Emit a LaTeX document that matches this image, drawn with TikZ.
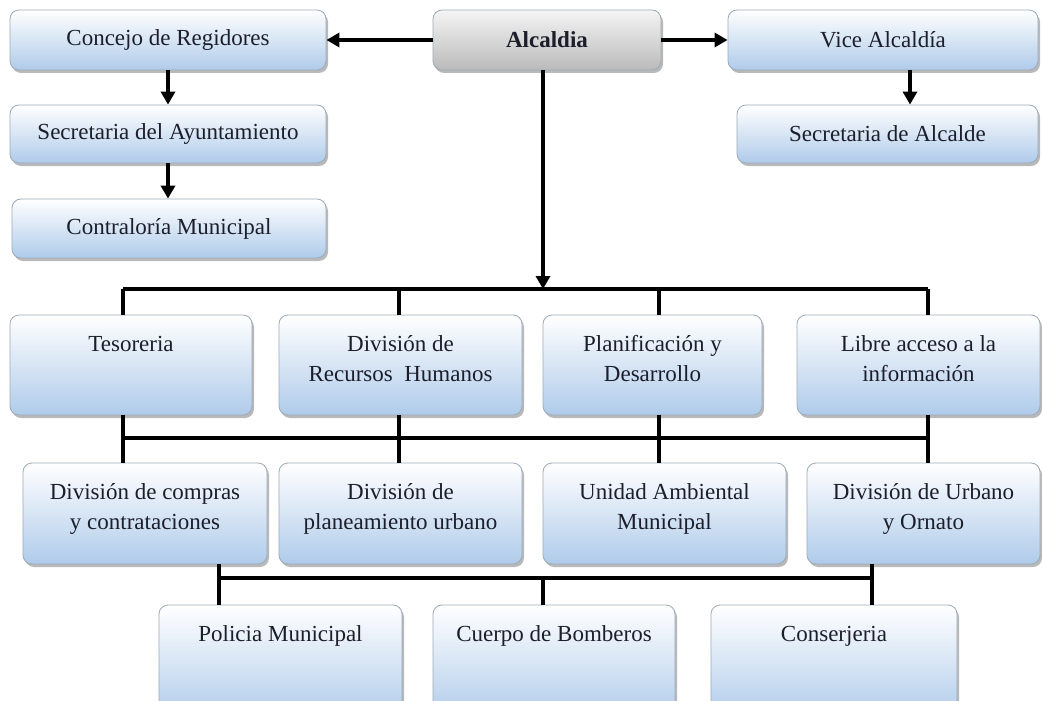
\documentclass[tikz,border=0pt]{standalone}
\usepackage{fontspec}
\setmainfont{Liberation Serif}
\usetikzlibrary{arrows.meta,shadows}
\definecolor{boxblue}{HTML}{AFCBEA}
\definecolor{boxedge}{HTML}{9DAAB8}
\definecolor{ink}{HTML}{1C1F2B}
\newcommand{\orgfont}{\fontsize{23}{30}\selectfont}
\begin{document}
\begin{tikzpicture}[x=1pt,y=-1pt]

    \tikzset{
      unit/.style={
        draw=boxedge,
        line width=0.8pt,
        rounded corners=9pt,
        top color=white,
        bottom color=boxblue,
        drop shadow={shadow xshift=2pt,shadow yshift=-3pt,opacity=0.55},
        text=ink,
        inner sep=0pt,
        align=center,
        font=\orgfont,
      },
      head/.style={unit,top color=black!4,bottom color=black!27,font=\orgfont\bfseries},
      toptext/.style={label={[anchor=north,inner sep=0pt,yshift=-21pt,align=center,text=ink,font=\orgfont]north:#1}},
      conn/.style={line width=3.8pt},
      arr/.style={conn,-{Triangle[length=13pt,width=14pt]}},
    }
    \useasboundingbox (0,0) rectangle (1042,701);
    \clip (0,0) rectangle (1042,701);

    % top block
    \node[head,minimum width=228pt,minimum height=60pt] (alc) at (547,40) {Alcaldia};
    \node[unit,minimum width=316pt,minimum height=60pt] (conc) at (168,40) {Concejo de Regidores};
    \node[unit,minimum width=310pt,minimum height=60pt] (vice) at (883,40) {Vice Alcaldía};
    \node[unit,minimum width=316pt,minimum height=58pt] (secayu) at (168,134) {Secretaria del Ayuntamiento};
    \node[unit,minimum width=301pt,minimum height=58pt] (secalc) at (887.5,134) {Secretaria de Alcalde};
    \node[unit,minimum width=314pt,minimum height=59pt] (contra) at (169,228.5) {Contraloría Municipal};

    % second row
    \node[unit,minimum width=242pt,minimum height=100pt,toptext={Tesoreria}] (tes) at (131,365) {};
    \node[unit,minimum width=243pt,minimum height=100pt,toptext={División de\\Recursos\ \ Humanos}] (rrhh) at (400.5,365) {};
    \node[unit,minimum width=219pt,minimum height=100pt,toptext={Planificación y\\Desarrollo}] (plan) at (652.5,365) {};
    \node[unit,minimum width=243pt,minimum height=100pt,toptext={Libre acceso a la\\información}] (libre) at (918.5,365) {};

    % third row
    \node[unit,minimum width=244pt,minimum height=101pt,toptext={División de compras\\y contrataciones}] (compras) at (145,513.5) {};
    \node[unit,minimum width=243pt,minimum height=101pt,toptext={División de\\planeamiento urbano}] (planea) at (400.5,513.5) {};
    \node[unit,minimum width=243pt,minimum height=101pt,toptext={Unidad Ambiental\\Municipal}] (unidad) at (664.5,513.5) {};
    \node[unit,minimum width=233pt,minimum height=101pt,toptext={División de Urbano\\y Ornato}] (urbano) at (923.5,513.5) {};

    % last row
    \node[unit,minimum width=243pt,minimum height=115pt,toptext={Policia Municipal}] (policia) at (280.5,662.5) {};
    \node[unit,minimum width=242pt,minimum height=115pt,toptext={Cuerpo de Bomberos}] (bomb) at (554,662.5) {};
    \node[unit,minimum width=246pt,minimum height=115pt,toptext={Conserjeria}] (consj) at (834,662.5) {};

    % bars
    \coordinate (c1) at (123,289);
    \coordinate (c2) at (399,289);
    \coordinate (c3) at (659,289);
    \coordinate (c4) at (928,289);
    \coordinate (d1) at (123,438);
    \coordinate (d4) at (928,438);
    \coordinate (e1) at (219,578);
    \coordinate (e2) at (543,578);
    \coordinate (e3) at (872,578);

    \draw[arr] (alc) -- (conc);
    \draw[arr] (alc) -- (vice);
    \draw[arr] (conc) -- (secayu);
    \draw[arr] (secayu.south) -- (secayu.south |- contra.north);
    \draw[arr] ([xshift=27pt]vice.south) -- ([xshift=27pt]vice.south |- secalc.north);
    \draw[arr] ([xshift=-4pt]alc.south) coordinate (a0) -- (a0 |- c1);

    \draw[conn] (c1) -- (c4);
    \foreach \c/\n in {c1/tes,c2/rrhh,c3/plan,c4/libre}
      \draw[conn] (\c) -- (\c |- \n.north);
    \foreach \c/\n/\m in {c1/tes/compras,c2/rrhh/planea,c3/plan/unidad,c4/libre/urbano}
      \draw[conn] (\c |- \n.south) -- (\c |- \m.north);
    \draw[conn] (d1) -- (d4);

    \draw[conn] (e1) -- (e3);
    \draw[conn] (e1 |- compras.south) -- (e1 |- policia.north);
    \draw[conn] (e3 |- urbano.south) -- (e3 |- consj.north);
    \draw[conn] (e2) -- (e2 |- bomb.north);

\end{tikzpicture}
\end{document}
